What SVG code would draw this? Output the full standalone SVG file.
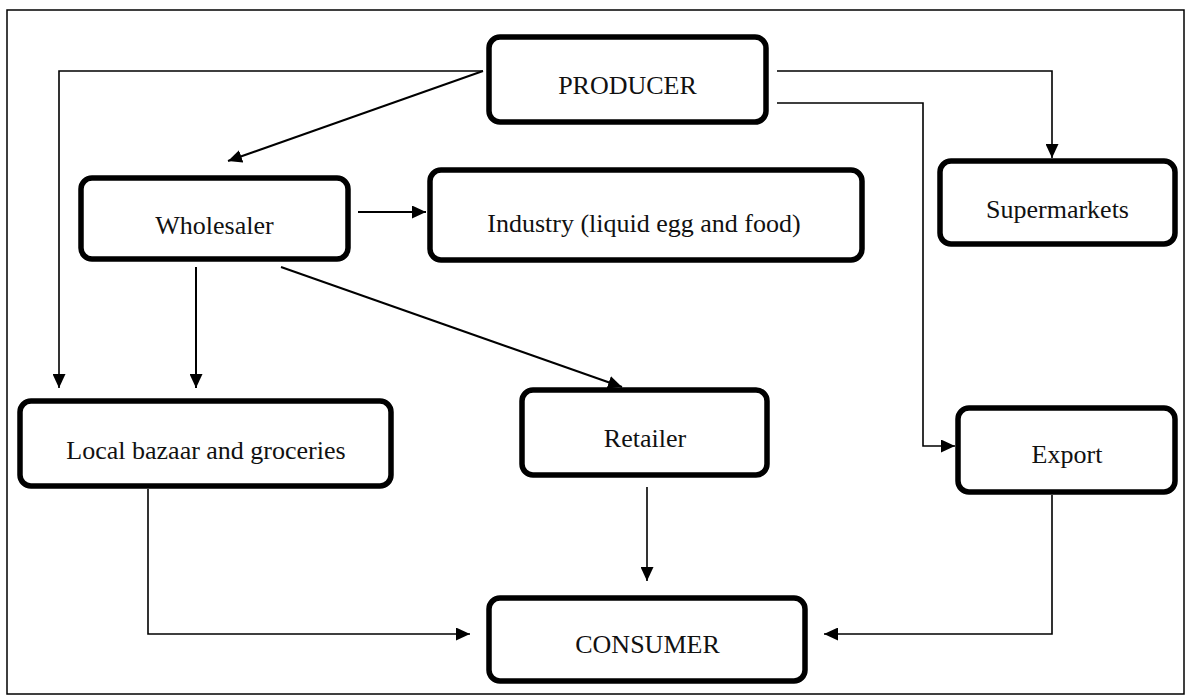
<svg xmlns="http://www.w3.org/2000/svg" width="1185" height="695" viewBox="0 0 1185 695">
  <style>
    .box { fill: #ffffff; stroke: #000000; stroke-width: 5.5; }
    .lbl { font-family: "Liberation Serif", "Times New Roman", serif; font-size: 26px; fill: #111111; text-anchor: middle; }
    .con { fill: none; stroke: #000000; stroke-width: 1.6; }
    .diag { fill: none; stroke: #000000; stroke-width: 2; }
  </style>
  <defs>
    <marker id="arr" markerUnits="userSpaceOnUse" markerWidth="14" markerHeight="13" refX="14" refY="6.5" orient="auto">
      <path d="M0,0 L14,6.5 L0,13 z" fill="#000000"/>
    </marker>
  </defs>
  <rect x="7" y="10" width="1177" height="684" fill="#ffffff" stroke="#000000" stroke-width="1.5"/>

  <g id="connectors">
    <polyline class="con" points="483,71 59,71 59,388" marker-end="url(#arr)"/>
    <line class="diag" x1="483" y1="71" x2="228" y2="161" marker-end="url(#arr)"/>
    <polyline class="con" points="777,71 1052,71 1052,158" marker-end="url(#arr)"/>
    <polyline class="con" points="777,103 923,103 923,446 955,446" marker-end="url(#arr)"/>
    <line class="diag" x1="358" y1="212" x2="426" y2="212" marker-end="url(#arr)"/>
    <line class="diag" x1="196" y1="267" x2="196" y2="388" marker-end="url(#arr)"/>
    <line class="diag" x1="281" y1="267" x2="622" y2="387" marker-end="url(#arr)"/>
    <line class="con" x1="647" y1="487" x2="647" y2="581" marker-end="url(#arr)"/>
    <polyline class="con" points="148,489 148,634 470,634" marker-end="url(#arr)"/>
    <polyline class="con" points="1052,495 1052,634 824,634" marker-end="url(#arr)"/>
  </g>

  <g id="producer">
    <rect class="box" x="489" y="37" width="277" height="85" rx="11"/>
    <text class="lbl" x="627.5" y="94">PRODUCER</text>
  </g>
  <g id="wholesaler">
    <rect class="box" x="81" y="178" width="267" height="81" rx="11"/>
    <text class="lbl" x="214.5" y="234">Wholesaler</text>
  </g>
  <g id="industry">
    <rect class="box" x="430" y="170" width="432" height="90" rx="11"/>
    <text class="lbl" x="644" y="232">Industry (liquid egg and food)</text>
  </g>
  <g id="supermarkets">
    <rect class="box" x="940" y="161" width="235" height="83" rx="11"/>
    <text class="lbl" x="1057.5" y="218">Supermarkets</text>
  </g>
  <g id="local">
    <rect class="box" x="20" y="401" width="371" height="85" rx="11"/>
    <text class="lbl" x="206" y="459">Local bazaar and groceries</text>
  </g>
  <g id="retailer">
    <rect class="box" x="522" y="390" width="245" height="85" rx="11"/>
    <text class="lbl" x="645" y="447">Retailer</text>
  </g>
  <g id="export">
    <rect class="box" x="958" y="408" width="217" height="84" rx="11"/>
    <text class="lbl" x="1067" y="463">Export</text>
  </g>
  <g id="consumer">
    <rect class="box" x="489" y="598" width="316" height="83" rx="11"/>
    <text class="lbl" x="647.5" y="653">CONSUMER</text>
  </g>
</svg>
